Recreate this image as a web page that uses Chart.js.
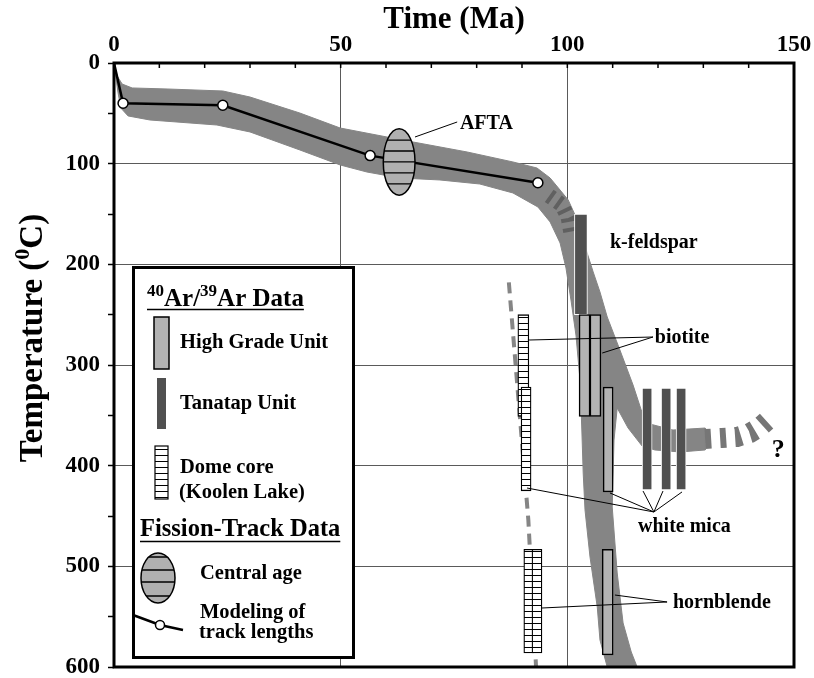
<!DOCTYPE html>
<html>
<head>
<meta charset="utf-8">
<title>Cooling history</title>
<script src="https://cdn.jsdelivr.net/npm/chart.js@4.4.1/dist/chart.umd.min.js"></script>
<style>
  html, body { margin: 0; padding: 0; background: #fff; }
  #wrap { width: 814px; height: 678px; }
</style>
</head>
<body>
<div id="wrap"><canvas id="chart" width="814" height="678"></canvas></div>
<script>
// ---- data: age in Ma, temperature in degrees C ----
const timeTicks = [0, 50, 100, 150];
const tempTicks = [0, 100, 200, 300, 400, 500, 600];

// modelled t-T path from fission-track lengths
const modelAge  = [0, 2, 24, 56.5, 93.5];
const modelTemp = [0, 40, 42, 92, 119];

// outline of the cooling envelope (clockwise from the origin)
const bandAge = [0, 0.7, 1.8, 4.0, 11.7, 24.0, 30.0, 41.0, 49.9, 60.2, 66.0, 77.9, 88.0, 93.3,
  96.2, 98.4, 100.2, 101.7, 103.0, 104.3, 105.7, 107.2, 108.8, 111.6, 114.5, 116.3, 118.2,
  123.3, 130.4, 130.4, 124.9, 119.3, 116.5, 113.4, 111.0, 110.3, 109.9, 111.0, 112.3, 114.1,
  115.4, 108.8, 107.2, 106.6, 105.0, 103.9, 103.5, 103.2, 102.8, 101.9, 100.8, 99.7, 98.4,
  96.2, 93.5, 88.0, 80.7, 71.9, 63.1, 55.8, 49.9, 41.0, 30.0, 22.7, 7.9, 3.1, 1.5, 0.9, 0.2];
const bandTemp = [0, 12.9, 20.9, 24.8, 25.8, 27.8, 33.8, 49.7, 64.6, 73.5, 78.5, 88.4, 98.3, 104.3,
  114.2, 126.2, 136.1, 151.0, 167.9, 187.7, 207.6, 227.5, 252.3, 285.1, 319.9, 344.7, 358.6,
  364.6, 362.6, 384.4, 386.4, 384.4, 380.5, 362.6, 342.7, 374.5, 441.0, 506.6, 556.3, 585.1,
  600, 600, 573.2, 540.4, 490.7, 444.0, 407.3, 364.6, 314.9, 270.2, 235.4, 203.6, 178.8,
  157.9, 143.0, 129.1, 120.2, 116.2, 114.2, 108.3, 101.3, 86.4, 68.5, 61.6, 56.6, 52.6, 44.7, 29.8, 7.0];

// dashed (uncertain) continuation toward older ages
const tailAge  = [130.4, 134.1, 137.4, 140.3, 142.5, 144.7];
const tailTemp = [373.5, 372.5, 371.5, 367.5, 361.6, 352.7];

// dashed segment at the bend of the envelope
const bendAge  = [96.0, 98.8, 100.2, 100.8];
const bendTemp = [132, 141, 154, 169];

// inferred path of the dome core
const domePathAge  = [87.1, 91.4, 93.1];
const domePathTemp = [218, 454, 600];

// 40Ar/39Ar ages with closure temperature ranges [min, max]
const kfsAge = [103];
const kfsTemp = [[150, 250]];
const tanMicaAge = [117.6, 121.8, 125.1];
const tanMicaTemp = [[323, 424], [323, 424], [323, 424]];
const hguBiotiteAge = [103.8, 106.2];
const hguBiotiteTemp = [[250, 351], [250, 351]];
const hguMicaAge = [109];
const hguMicaTemp = [[322, 426]];
const hguHblAge = [108.9];
const hguHblTemp = [[483, 588]];
const domeBiotiteAge = [90.3];
const domeBiotiteTemp = [[250, 351]];
const domeMicaAge = [90.9];
const domeMicaTemp = [[322, 425]];
const domeHblAge = [91.5, 93.3];
const domeHblTemp = [[483, 586], [483, 586]];

// fission-track central age (AFTA): age, temperature, half-ranges
const aftaAge = 62.9, aftaTemp = 98.3, aftaAgeErr = 3.5, aftaTempErr = 33;

// labels and their leader lines (age, temperature)
const labelText = ['AFTA', 'k-feldspar', 'biotite', 'white mica', 'hornblende'];
const labelAge  = [76.3, 109.4, 119.3, 115.6, 123.3];
const labelTemp = [60.6, 179, 273, 461, 536];
const leaderFrom = [[75.7, 58.6], [118.9, 272.2], [119.1, 446], [122.0, 535.4]];
const leaderTo = [
  [[66.4, 73.5]],
  [[91.3, 275.2], [107.7, 288.1]],
  [[91.1, 422.2], [109.4, 427.1], [116.7, 425.2], [121.1, 425.2], [125.3, 426.1]],
  [[94.4, 541.4], [110.5, 528.5]]
];

const FONT = '"Liberation Serif", "Times New Roman", Times, serif';
const font = (size) => `bold ${size}px ${FONT}`;

const BAND = '#858585';
const LIGHT = '#b3b3b3';
const DARK = '#505050';

// horizontal hatching used for the dome core samples
function hatchPattern() {
  const c = document.createElement('canvas');
  c.width = 6; c.height = 6;
  const g = c.getContext('2d');
  g.fillStyle = '#fff';
  g.fillRect(0, 0, 6, 6);
  g.fillStyle = '#000';
  g.fillRect(0, 5, 6, 1);
  return g.createPattern(c, 'repeat');
}
const hatch = hatchPattern();

const pts = (xs, ys) => xs.map((x, i) => ({ x, y: ys[i] }));

function barSet(ages, temps, fill, border, width, thickness, order) {
  return {
    type: 'bar',
    data: pts(ages, temps),
    backgroundColor: fill,
    borderColor: border,
    borderWidth: width,
    borderSkipped: false,
    barThickness: thickness,
    grouped: false,
    order
  };
}

function stripedEllipse(ctx, cx, cy, rx, ry, stripes) {
  ctx.save();
  ctx.beginPath();
  ctx.ellipse(cx, cy, rx, ry, 0, 0, Math.PI * 2);
  ctx.fillStyle = '#b0b0b0';
  ctx.fill();
  ctx.clip();
  ctx.strokeStyle = '#000';
  ctx.lineWidth = 1.3;
  stripes.forEach(f => {
    const y = cy + f * ry;
    ctx.beginPath();
    ctx.moveTo(cx - rx, y);
    ctx.lineTo(cx + rx, y);
    ctx.stroke();
  });
  ctx.restore();
  ctx.beginPath();
  ctx.ellipse(cx, cy, rx, ry, 0, 0, Math.PI * 2);
  ctx.lineWidth = 1.5;
  ctx.strokeStyle = '#000';
  ctx.stroke();
}

// text pieces [string, size, raise] drawn one after another
function pieces(ctx, x, y, parts) {
  parts.forEach(([s, size, raise]) => {
    ctx.font = font(size);
    ctx.fillText(s, x, y - raise);
    x += ctx.measureText(s).width;
  });
  return x;
}

function drawLegend(ctx) {
  ctx.save();
  ctx.fillStyle = '#fff';
  ctx.fillRect(133, 267, 221, 391);
  ctx.lineWidth = 3;
  ctx.strokeStyle = '#000';
  ctx.strokeRect(133.5, 267.5, 220, 390);

  ctx.fillStyle = '#000';
  ctx.textAlign = 'left';
  ctx.textBaseline = 'alphabetic';
  let end = pieces(ctx, 147, 306, [['40', 17, 10], ['Ar/', 25, 0], ['39', 17, 10], ['Ar Data', 25, 0]]);
  ctx.lineWidth = 1.5;
  ctx.beginPath(); ctx.moveTo(147, 309.5); ctx.lineTo(end, 309.5); ctx.stroke();

  // High Grade Unit
  ctx.fillStyle = LIGHT;
  ctx.fillRect(154, 317, 15, 52);
  ctx.lineWidth = 1.5;
  ctx.strokeRect(154, 317, 15, 52);
  // Tanatap Unit
  ctx.fillStyle = DARK;
  ctx.fillRect(157, 378, 9, 51);
  // Dome core
  ctx.fillStyle = hatch;
  ctx.fillRect(155, 446, 13, 53);
  ctx.lineWidth = 1.2;
  ctx.strokeRect(155, 446, 13, 53);

  ctx.fillStyle = '#000';
  ctx.font = font(20.5);
  ctx.fillText('High Grade Unit', 180, 348);
  ctx.fillText('Tanatap Unit', 180, 409);
  ctx.fillText('Dome core', 180, 473);
  ctx.fillText('(Koolen Lake)', 179, 498);

  ctx.font = font(24.5);
  ctx.fillText('Fission-Track Data', 140, 536);
  end = 140 + ctx.measureText('Fission-Track Data').width;
  ctx.lineWidth = 1.5;
  ctx.beginPath(); ctx.moveTo(140, 541.5); ctx.lineTo(end, 541.5); ctx.stroke();

  stripedEllipse(ctx, 158, 578, 17, 25, [-0.84, -0.32, 0.16, 0.72]);

  ctx.strokeStyle = '#000';
  ctx.lineWidth = 2.5;
  ctx.beginPath(); ctx.moveTo(133, 615); ctx.lineTo(160, 625); ctx.lineTo(183, 630); ctx.stroke();
  ctx.beginPath(); ctx.arc(160, 625, 4.5, 0, Math.PI * 2);
  ctx.fillStyle = '#fff'; ctx.fill();
  ctx.lineWidth = 1.5; ctx.stroke();

  ctx.fillStyle = '#000';
  ctx.font = font(20.5);
  ctx.fillText('Central age', 200, 579);
  ctx.fillText('Modeling of', 200, 618);
  ctx.fillText('track lengths', 199, 638);
  ctx.restore();
}

const decorations = {
  id: 'decorations',
  afterDatasetsDraw(chart) {
    const { ctx, chartArea: a, scales: { x, y } } = chart;
    const X = v => x.getPixelForValue(v);
    const Y = v => y.getPixelForValue(v);
    ctx.save();

    // AFTA central age
    const cx = X(aftaAge), cy = Y(aftaTemp);
    const rx = X(aftaAge + aftaAgeErr) - cx, ry = Y(aftaTemp + aftaTempErr) - cy;
    stripedEllipse(ctx, cx, cy, rx, ry, [-0.66, -0.33, 0, 0.33, 0.66]);

    // leader lines
    ctx.strokeStyle = '#000';
    ctx.lineWidth = 1;
    leaderFrom.forEach((f, i) => {
      leaderTo[i].forEach(t => {
        ctx.beginPath();
        ctx.moveTo(X(f[0]), Y(f[1]));
        ctx.lineTo(X(t[0]), Y(t[1]));
        ctx.stroke();
      });
    });

    // labels
    ctx.fillStyle = '#000';
    ctx.font = font(20);
    ctx.textAlign = 'left';
    ctx.textBaseline = 'middle';
    labelText.forEach((s, i) => ctx.fillText(s, X(labelAge[i]), Y(labelTemp[i])));
    ctx.font = font(26);
    ctx.textAlign = 'center';
    ctx.fillText('?', X(146.5), Y(385));

    // frame and inward minor ticks on the time axis
    ctx.lineWidth = 3;
    ctx.strokeRect(a.left, a.top, a.right - a.left, a.bottom - a.top);
    ctx.lineWidth = 1.5;
    for (let t = 10; t < 150; t += 10) {
      ctx.beginPath();
      ctx.moveTo(X(t), a.top);
      ctx.lineTo(X(t), a.top + 5);
      ctx.stroke();
    }

    drawLegend(ctx);

    // temperature axis title with superscript zero
    ctx.translate(31, 338);
    ctx.rotate(-Math.PI / 2);
    ctx.textAlign = 'left';
    ctx.textBaseline = 'alphabetic';
    const parts = [['Temperature (', 33, 0], ['0', 22, 13], ['C)', 33, 0]];
    let w = 0;
    parts.forEach(([s, size]) => { ctx.font = font(size); w += ctx.measureText(s).width; });
    pieces(ctx, -w / 2, 11, parts);
    ctx.restore();
  }
};

const gridColor = (step, lo, hi) => (c) => {
  const v = c.tick && c.tick.value;
  return (v % step === 0 && v > lo && v < hi) ? '#5a5a5a' : 'rgba(0,0,0,0)';
};

new Chart(document.getElementById('chart'), {
  type: 'line',
  data: {
    datasets: [
      { data: pts(bandAge, bandTemp), fill: 'shape', backgroundColor: BAND, borderColor: BAND,
        borderWidth: 1, pointRadius: 0, tension: 0, order: 20 },
      { data: pts(bendAge, bendTemp), borderColor: '#606060', borderWidth: 15, borderDash: [4, 6],
        pointRadius: 0, fill: false, order: 19 },
      { data: pts(tailAge, tailTemp), borderColor: '#767676', borderWidth: 20, borderDash: [6, 9],
        pointRadius: 0, fill: false, order: 19 },
      { data: pts(domePathAge, domePathTemp), borderColor: BAND, borderWidth: 4, borderDash: [11, 7],
        pointRadius: 0, fill: false, order: 18 },
      { data: pts(modelAge, modelTemp), borderColor: '#000', borderWidth: 2.5, fill: false,
        pointRadius: c => c.dataIndex === 0 ? 0 : 5, pointBackgroundColor: '#fff',
        pointBorderColor: '#000', pointBorderWidth: 1.5, order: 17 },
      barSet(kfsAge, kfsTemp, DARK, '#fff', 1, 13, 8),
      barSet(tanMicaAge, tanMicaTemp, DARK, '#fff', 1, 10, 7),
      barSet(hguBiotiteAge, hguBiotiteTemp, LIGHT, '#000', 1.5, 11, 6),
      barSet(hguMicaAge, hguMicaTemp, LIGHT, '#000', 1.5, 10, 5),
      barSet(hguHblAge, hguHblTemp, LIGHT, '#000', 1.5, 11, 4),
      barSet(domeBiotiteAge, domeBiotiteTemp, hatch, '#000', 1.3, 11, 3),
      barSet(domeMicaAge, domeMicaTemp, hatch, '#000', 1.3, 10, 2),
      barSet(domeHblAge, domeHblTemp, hatch, '#000', 1.3, 10, 1)
    ]
  },
  options: {
    responsive: false,
    animation: false,
    events: [],
    layout: { padding: { left: 0, right: 20, top: 0, bottom: 11 } },
    plugins: { legend: { display: false }, tooltip: { enabled: false } },
    scales: {
      x: {
        type: 'linear', position: 'top', min: 0, max: 150, offset: false,
        border: { display: false },
        grid: { offset: false, color: gridColor(50, 0, 150), lineWidth: 1, drawTicks: false },
        ticks: {
          stepSize: 10, autoSkip: false, maxRotation: 0, padding: 4, color: '#000',
          font: { family: FONT, weight: 'bold', size: 23 },
          callback: v => timeTicks.includes(v) ? v : ''
        },
        title: { display: true, text: 'Time (Ma)', color: '#000',
          font: { family: FONT, weight: 'bold', size: 31 }, padding: { top: 1, bottom: 0 } },
        afterFit: s => { s.height = 63; s.paddingLeft = 0; s.paddingRight = 0; }
      },
      y: {
        type: 'linear', min: 0, max: 600, reverse: true, stacked: false,
        border: { display: false },
        grid: { offset: false, color: gridColor(100, 0, 600), lineWidth: 1, tickColor: '#000', tickLength: 6, tickWidth: 1.5 },
        ticks: {
          stepSize: 50, autoSkip: false, padding: 8, color: '#000',
          font: { family: FONT, weight: 'bold', size: 23 },
          callback: v => tempTicks.includes(v) ? v : ''
        },
        afterFit: s => { s.width = 114; s.paddingTop = 0; s.paddingBottom = 0; }
      }
    }
  },
  plugins: [decorations]
});
</script>
</body>
</html>
